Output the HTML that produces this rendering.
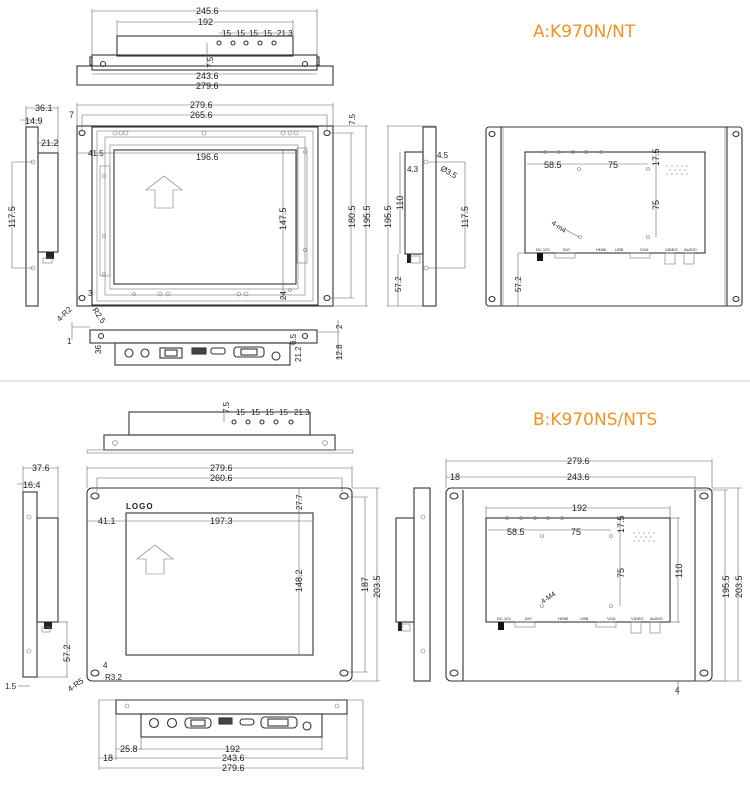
<!DOCTYPE html>
<html><head><meta charset="utf-8"><style>
html,body{margin:0;padding:0;background:#fff;width:750px;height:790px;overflow:hidden}
svg{display:block}
.l{stroke:#333;stroke-width:1.1;fill:none}
.t{stroke:#777;stroke-width:.6;fill:none}
.d{stroke:#666;stroke-width:.6;fill:none}
text{font-family:"Liberation Sans",sans-serif;font-size:9px;fill:#222}
.s text{font-size:4px}
.ti{font-family:"DejaVu Sans","Liberation Sans",sans-serif;font-size:17px;fill:#f39221}
</style></head><body>
<svg width="750" height="790" viewBox="0 0 750 790" xmlns="http://www.w3.org/2000/svg">
<text class="ti" x="533" y="37">A:K970N/NT</text>
<text class="ti" x="533" y="425">B:K970NS/NTS</text>
<line x1="0" y1="381" x2="750" y2="381" stroke="#ccc" stroke-width="1"/>

<g>
<rect class="l" x="117" y="36" width="176" height="20"/>
<rect class="l" x="92" y="55" width="225" height="15"/>
<rect class="l" x="77" y="66" width="256" height="19"/>
<rect class="l" x="90" y="57" width="2" height="8"/><rect class="l" x="317" y="57" width="2" height="8"/>
<circle class="l" cx="103" cy="64" r="2.5"/><circle class="l" cx="305" cy="64" r="2.5"/>
<g class="l"><circle cx="219" cy="43" r="2"/><circle cx="233" cy="43" r="2"/><circle cx="246" cy="43" r="2"/><circle cx="260" cy="43" r="2"/><circle cx="274" cy="43" r="2"/></g>
<line class="d" x1="92" y1="11" x2="317" y2="11"/><line class="d" x1="92" y1="9" x2="92" y2="55"/><line class="d" x1="317" y1="9" x2="317" y2="55"/>
<text x="196" y="14">245.6</text>
<line class="d" x1="117" y1="22" x2="293" y2="22"/><line class="d" x1="117" y1="20" x2="117" y2="36"/><line class="d" x1="293" y1="20" x2="293" y2="36"/>
<text x="198" y="25">192</text>
<line class="d" x1="219" y1="33" x2="293" y2="33"/>
<text x="222" y="36" style="font-size:8px">15</text><text x="236" y="36" style="font-size:8px">15</text><text x="249" y="36" style="font-size:8px">15</text><text x="263" y="36" style="font-size:8px">15</text><text x="277" y="36" style="font-size:8px">21.3</text>
<line class="d" x1="207" y1="43" x2="207" y2="66"/>
<text transform="translate(213,68) rotate(-90)" style="font-size:8px">7.5</text>
<line class="d" x1="92" y1="74" x2="317" y2="74"/><text x="196" y="79">243.6</text>
<line class="d" x1="77" y1="85" x2="333" y2="85"/><text x="196" y="89">279.6</text>
</g>

<g>
<rect class="l" x="77" y="126" width="256" height="180"/>
<rect class="l" x="92" y="127" width="226" height="178" stroke-width="1.8"/>
<rect class="t" x="97" y="131" width="216" height="170"/>
<rect class="t" x="105" y="137" width="200" height="158"/>
<rect class="t" x="110" y="145" width="188" height="144"/>
<rect class="l" x="114" y="150" width="182" height="134"/>
<rect class="t" x="100" y="166" width="10" height="110"/>
<rect class="t" x="297" y="148" width="10" height="115"/>
<polygon class="t" points="164,176 182,190 173,190 173,208 155,208 155,190 146,190"/>
<g class="l"><ellipse cx="82" cy="133" rx="3" ry="2.5"/><ellipse cx="82" cy="298" rx="3" ry="2.5"/><ellipse cx="327" cy="133" rx="3" ry="2.5"/><ellipse cx="327" cy="298" rx="3" ry="2.5"/></g>
<g class="t"><circle cx="115" cy="133" r="2"/><circle cx="121" cy="133" r="2"/><circle cx="126" cy="133" r="2"/><circle cx="283" cy="133" r="2"/><circle cx="290" cy="133" r="2"/><circle cx="296" cy="133" r="2"/><circle cx="204" cy="133" r="2"/>
<circle cx="160" cy="294" r="2"/><circle cx="168" cy="294" r="2"/><circle cx="239" cy="294" r="2"/><circle cx="246" cy="294" r="2"/><circle cx="134" cy="294" r="1.5"/><circle cx="290" cy="290" r="1.5"/>
<circle cx="104" cy="176" r="1.5"/><circle cx="104" cy="236" r="1.5"/><circle cx="104" cy="274" r="1.5"/><circle cx="305" cy="152" r="1.5"/><circle cx="305" cy="250" r="1.5"/></g>
<line class="d" x1="77" y1="105" x2="333" y2="105"/><line class="d" x1="77" y1="103" x2="77" y2="126"/><line class="d" x1="333" y1="103" x2="333" y2="126"/>
<text x="190" y="108">279.6</text>
<line class="d" x1="82" y1="115" x2="327" y2="115"/><text x="190" y="118">265.6</text>
<text x="69" y="118">7</text>
<line class="d" x1="82" y1="115" x2="82" y2="130"/><line class="d" x1="327" y1="115" x2="327" y2="130"/>
<line class="d" x1="77" y1="153" x2="295" y2="153"/><text x="88" y="156" style="font-size:8px">41.5</text>
<text x="196" y="160">196.6</text>
<line class="d" x1="283" y1="150" x2="283" y2="300"/><text transform="translate(286,230) rotate(-90)">147.5</text>
<text transform="translate(286,300) rotate(-90)" style="font-size:8px">24</text>
<line class="d" x1="330" y1="133" x2="354" y2="133"/><line class="d" x1="330" y1="298" x2="354" y2="298"/>
<line class="d" x1="351" y1="133" x2="351" y2="298"/><text transform="translate(355,228) rotate(-90)">180.5</text>
<line class="d" x1="333" y1="126" x2="368" y2="126"/><line class="d" x1="333" y1="306" x2="368" y2="306"/>
<line class="d" x1="366" y1="126" x2="366" y2="306"/><text transform="translate(370,228) rotate(-90)">195.5</text>
<text transform="translate(355,125) rotate(-90)" style="font-size:8px">7.5</text>
<text x="88" y="296" style="font-size:8px">3</text>
<text transform="translate(60,322) rotate(-45)" style="font-size:8px">4-R2</text>
<text transform="translate(92,310) rotate(55)" style="font-size:8px">R2.5</text>
</g>

<g>
<rect class="l" x="26" y="127" width="12" height="179"/>
<rect class="l" x="38" y="153" width="20" height="99"/>
<rect x="46" y="252" width="8" height="7" fill="#222"/>
<rect class="t" x="43" y="258" width="9" height="5"/>
<circle class="t" cx="33" cy="162" r="2"/><circle class="t" cx="33" cy="268" r="2"/>
<line class="d" x1="12" y1="162" x2="33" y2="162"/><line class="d" x1="12" y1="268" x2="33" y2="268"/><line class="d" x1="12" y1="162" x2="12" y2="268"/>
<text transform="translate(15,228) rotate(-90)">117.5</text>
<line class="d" x1="26" y1="108" x2="58" y2="108"/><line class="d" x1="26" y1="106" x2="26" y2="127"/><line class="d" x1="58" y1="106" x2="58" y2="153"/>
<text x="35" y="111">36.1</text>
<line class="d" x1="20" y1="120" x2="40" y2="120"/><text x="25" y="124">14.9</text>
<line class="d" x1="38" y1="143" x2="58" y2="143"/><text x="41" y="146">21.2</text>
</g>

<g>
<rect class="l" x="90" y="330" width="227" height="13"/>
<rect class="l" x="115" y="343" width="175" height="22"/>
<circle class="l" cx="101" cy="336" r="2.5"/><circle class="l" cx="305" cy="336" r="2.5"/>
<g class="l"><circle cx="129" cy="353" r="4"/><circle cx="145" cy="353" r="4"/>
<rect x="160" y="348" width="22" height="10"/><rect x="165" y="350" width="12" height="6"/>
<rect x="192" y="348" width="14" height="6" fill="#444"/>
<rect x="211" y="348" width="14" height="6" rx="2"/>
<rect x="234" y="347" width="30" height="10" rx="3"/><rect x="241" y="349" width="16" height="6"/>
<circle cx="276" cy="356" r="4"/></g>
<line class="d" x1="72" y1="327" x2="90" y2="327"/><line class="d" x1="72" y1="322" x2="72" y2="340"/><text x="67" y="344" style="font-size:8px">1</text>
<text transform="translate(101,354) rotate(-90)" style="font-size:8px">36</text>
<text transform="translate(296,345) rotate(-90)" style="font-size:8px">6.5</text>
<text transform="translate(301,362) rotate(-90)" style="font-size:8px">21.2</text>
<line class="d" x1="317" y1="332" x2="340" y2="332"/><line class="d" x1="338" y1="320" x2="338" y2="360"/>
<text transform="translate(342,329) rotate(-90)" style="font-size:8px">2</text>
<text transform="translate(342,360) rotate(-90)" style="font-size:8px">12.8</text>
</g>

<g>
<line class="d" x1="387" y1="126" x2="436" y2="126"/><line class="d" x1="387" y1="306" x2="436" y2="306"/>
<line class="d" x1="388" y1="126" x2="388" y2="306"/><text transform="translate(391,228) rotate(-90)">195.5</text>
<rect class="l" x="423" y="127" width="13" height="179"/>
<rect class="l" x="405" y="152" width="18" height="102"/>
<rect x="407" y="254" width="4" height="9" fill="#222"/><rect class="t" x="411" y="256" width="9" height="7"/>
<circle class="t" cx="426" cy="162" r="2"/><circle class="t" cx="426" cy="268" r="2"/>
<line class="d" x1="400" y1="152" x2="400" y2="254"/><text transform="translate(403,210) rotate(-90)">110</text>
<line class="d" x1="428" y1="162" x2="465" y2="162"/><line class="d" x1="428" y1="268" x2="465" y2="268"/><line class="d" x1="465" y1="162" x2="465" y2="268"/>
<text transform="translate(468,228) rotate(-90)">117.5</text>
<text x="437" y="158" style="font-size:8px">4.5</text><text x="407" y="172" style="font-size:8px">4.3</text>
<text transform="translate(440,170) rotate(30)" style="font-size:8px">Ø3.5</text>
<line class="d" x1="398" y1="254" x2="398" y2="306"/><text transform="translate(401,292) rotate(-90)" style="font-size:8px">57.2</text>
</g>

<g>
<rect class="l" x="486" y="127" width="256" height="179" rx="3"/>
<line class="l" x1="501" y1="127" x2="501" y2="306"/><line class="l" x1="727" y1="127" x2="727" y2="306"/>
<line class="t" x1="503" y1="127" x2="503" y2="306"/><line class="t" x1="725" y1="127" x2="725" y2="306"/>
<g class="l"><ellipse cx="492" cy="134" rx="3" ry="2.5"/><ellipse cx="492" cy="299" rx="3" ry="2.5"/><ellipse cx="736" cy="134" rx="3" ry="2.5"/><ellipse cx="736" cy="299" rx="3" ry="2.5"/></g>
<rect class="l" x="525" y="152" width="180" height="101"/>
<g class="t"><circle cx="545" cy="152" r="1.5"/><circle cx="559" cy="152" r="1.5"/><circle cx="573" cy="152" r="1.5"/><circle cx="586" cy="152" r="1.5"/><circle cx="601" cy="152" r="1.5"/>
<circle cx="579" cy="169" r="1.5"/><circle cx="648" cy="169" r="1.5"/><circle cx="580" cy="237" r="1.5"/><circle cx="648" cy="237" r="1.5"/></g>
<g fill="#777"><circle cx="667" cy="166" r=".6"/><circle cx="672" cy="166" r=".6"/><circle cx="677" cy="166" r=".6"/><circle cx="682" cy="166" r=".6"/><circle cx="687" cy="166" r=".6"/><circle cx="670" cy="170" r=".6"/><circle cx="675" cy="170" r=".6"/><circle cx="680" cy="170" r=".6"/><circle cx="685" cy="170" r=".6"/><circle cx="667" cy="174" r=".6"/><circle cx="672" cy="174" r=".6"/><circle cx="677" cy="174" r=".6"/><circle cx="682" cy="174" r=".6"/><circle cx="687" cy="174" r=".6"/></g>
<line class="d" x1="527" y1="164" x2="648" y2="164"/><text x="544" y="168">58.5</text><text x="608" y="168">75</text>
<line class="d" x1="656" y1="150" x2="656" y2="237"/><text transform="translate(659,166) rotate(-90)">17.5</text><text transform="translate(659,210) rotate(-90)">75</text>
<text transform="translate(551,224) rotate(35)" style="font-size:7px">4-m4</text>
<line class="d" x1="566" y1="230" x2="579" y2="237"/>
<rect x="537" y="253" width="6" height="8" fill="#111"/>
<rect class="t" x="555" y="253" width="20" height="5"/><rect class="t" x="630" y="253" width="20" height="5"/>
<rect class="t" x="665" y="253" width="10" height="11"/><rect class="t" x="684" y="253" width="10" height="11"/>
<g class="s"><text x="536" y="251">DC 12V</text><text x="563" y="251">DVI</text><text x="596" y="251">HDMI</text><text x="615" y="251">USB</text><text x="640" y="251">VGA</text><text x="665" y="251">VIDEO</text><text x="684" y="251">AUDIO</text></g>
<line class="d" x1="518" y1="253" x2="535" y2="253"/><line class="d" x1="518" y1="253" x2="518" y2="306"/>
<text transform="translate(521,292) rotate(-90)" style="font-size:8px">57.2</text>
</g>

<g>
<rect class="l" x="129" y="412" width="181" height="23"/>
<rect class="l" x="104" y="435" width="231" height="15"/>
<rect class="t" x="87" y="450" width="266" height="3"/>
<circle class="t" cx="115" cy="443" r="2.5"/><circle class="t" cx="325" cy="443" r="2.5"/>
<g class="l"><circle cx="234" cy="422" r="2"/><circle cx="248" cy="422" r="2"/><circle cx="262" cy="422" r="2"/><circle cx="276" cy="422" r="2"/><circle cx="291" cy="422" r="2"/></g>
<line class="d" x1="224" y1="412" x2="310" y2="412"/><line class="d" x1="224" y1="412" x2="224" y2="422"/>
<text transform="translate(229,413) rotate(-90)" style="font-size:8px">7.5</text>
<text x="236" y="415" style="font-size:8px">15</text><text x="251" y="415" style="font-size:8px">15</text><text x="265" y="415" style="font-size:8px">15</text><text x="279" y="415" style="font-size:8px">15</text><text x="294" y="415" style="font-size:8px">21.3</text>
</g>

<g>
<rect class="l" x="87" y="488" width="265" height="193" rx="5"/>
<rect class="l" x="126" y="513" width="187" height="142"/>
<polygon class="t" points="155,545 173,559 164,559 164,574 146,574 146,559 137,559"/>
<g class="l"><ellipse cx="95" cy="496" rx="4" ry="3"/><ellipse cx="344" cy="496" rx="4" ry="3"/><ellipse cx="95" cy="673" rx="4" ry="3"/><ellipse cx="344" cy="673" rx="4" ry="3"/></g>
<text x="126" y="509" style="font-weight:bold;font-size:8px;letter-spacing:1px">LOGO</text>
<line class="d" x1="87" y1="468" x2="352" y2="468"/><line class="d" x1="87" y1="466" x2="87" y2="488"/><line class="d" x1="352" y1="466" x2="352" y2="488"/>
<text x="210" y="471">279.6</text>
<line class="d" x1="97" y1="478" x2="342" y2="478"/><line class="d" x1="97" y1="478" x2="97" y2="492"/><line class="d" x1="342" y1="478" x2="342" y2="492"/>
<text x="210" y="481">260.6</text>
<line class="d" x1="87" y1="521" x2="313" y2="521"/><text x="98" y="524">41.1</text><text x="210" y="524">197.3</text>
<line class="d" x1="299" y1="488" x2="299" y2="655"/><text transform="translate(302,510) rotate(-90)" style="font-size:8px">27.7</text>
<text transform="translate(302,592) rotate(-90)">148.2</text>
<line class="d" x1="348" y1="497" x2="368" y2="497"/><line class="d" x1="348" y1="672" x2="368" y2="672"/><line class="d" x1="365" y1="497" x2="365" y2="672"/>
<text transform="translate(368,592) rotate(-90)">187</text>
<line class="d" x1="352" y1="488" x2="380" y2="488"/><line class="d" x1="352" y1="681" x2="380" y2="681"/><line class="d" x1="377" y1="488" x2="377" y2="681"/>
<text transform="translate(380,598) rotate(-90)">203.5</text>
<text x="103" y="668" style="font-size:8px">4</text><text x="105" y="680" style="font-size:8px">R3.2</text>
<text transform="translate(70,692) rotate(-35)" style="font-size:8px">4-R5</text>
</g>

<g>
<rect class="l" x="23" y="492" width="14" height="185"/>
<rect class="l" x="37" y="518" width="21" height="104"/>
<rect x="44" y="622" width="8" height="7" fill="#222"/><rect class="t" x="42" y="627" width="8" height="5"/>
<circle class="t" cx="29" cy="517" r="2"/><circle class="t" cx="29" cy="651" r="2"/>
<line class="d" x1="23" y1="468" x2="58" y2="468"/><line class="d" x1="23" y1="466" x2="23" y2="492"/><line class="d" x1="58" y1="466" x2="58" y2="518"/>
<text x="32" y="471">37.6</text>
<line class="d" x1="17" y1="484" x2="38" y2="484"/><text x="23" y="488">16.4</text>
<line class="d" x1="58" y1="622" x2="68" y2="622"/><line class="d" x1="37" y1="677" x2="68" y2="677"/><line class="d" x1="67" y1="622" x2="67" y2="677"/>
<text transform="translate(70,662) rotate(-90)">57.2</text>
<text x="5" y="689" style="font-size:8px">1.5</text><line class="d" x1="18" y1="686" x2="30" y2="686"/>
</g>

<g>
<rect class="l" x="116" y="700" width="231" height="14"/>
<rect class="l" x="141" y="714" width="181" height="23"/>
<line class="d" x1="99" y1="700" x2="363" y2="700"/><line class="d" x1="99" y1="700" x2="99" y2="770"/><line class="d" x1="363" y1="700" x2="363" y2="770"/>
<circle class="t" cx="127" cy="706" r="2"/><circle class="t" cx="337" cy="706" r="2"/>
<g class="l"><circle cx="154" cy="723" r="4.5"/><circle cx="172" cy="723" r="4.5"/>
<rect x="185" y="718" width="26" height="10" rx="4"/><rect x="191" y="720" width="14" height="6"/>
<rect x="219" y="718" width="13" height="6" fill="#444"/>
<rect x="240" y="719" width="14" height="6" rx="3"/>
<rect x="261" y="717" width="36" height="11" rx="4"/><rect x="268" y="719" width="20" height="7"/>
<circle cx="307" cy="726" r="4"/></g>
<line class="d" x1="116" y1="714" x2="116" y2="760"/><line class="d" x1="347" y1="714" x2="347" y2="760"/>
<line class="d" x1="141" y1="737" x2="141" y2="750"/><line class="d" x1="322" y1="737" x2="322" y2="750"/>
<line class="d" x1="116" y1="749" x2="322" y2="749"/><text x="120" y="752">25.8</text><text x="225" y="752">192</text>
<line class="d" x1="99" y1="758" x2="347" y2="758"/><text x="103" y="761">18</text><text x="222" y="761">243.6</text>
<line class="d" x1="99" y1="768" x2="363" y2="768"/><text x="222" y="771">279.6</text>
</g>

<g>
<rect class="l" x="414" y="488" width="16" height="193"/>
<rect class="l" x="396" y="518" width="18" height="104"/>
<rect x="398" y="622" width="4" height="9" fill="#222"/><rect class="t" x="402" y="624" width="8" height="7"/>
<circle class="t" cx="423" cy="517" r="2"/><circle class="t" cx="423" cy="651" r="2"/>
</g>

<g>
<rect class="l" x="446" y="488" width="266" height="193" rx="5"/>
<line class="l" x1="463" y1="490" x2="463" y2="681"/><line class="l" x1="695" y1="490" x2="695" y2="681"/>
<g class="l"><ellipse cx="454" cy="496" rx="4" ry="3"/><ellipse cx="704" cy="496" rx="4" ry="3"/><ellipse cx="454" cy="673" rx="4" ry="3"/><ellipse cx="704" cy="673" rx="4" ry="3"/></g>
<rect class="l" x="486" y="518" width="184" height="104"/>
<line class="d" x1="446" y1="461" x2="712" y2="461"/><line class="d" x1="446" y1="459" x2="446" y2="488"/><line class="d" x1="712" y1="459" x2="712" y2="488"/>
<text x="567" y="464">279.6</text>
<line class="d" x1="446" y1="477" x2="695" y2="477"/><line class="d" x1="695" y1="477" x2="695" y2="490"/>
<text x="450" y="480">18</text><text x="567" y="480">243.6</text>
<line class="d" x1="486" y1="508" x2="670" y2="508"/><line class="d" x1="486" y1="506" x2="486" y2="518"/><line class="d" x1="670" y1="506" x2="670" y2="518"/>
<text x="572" y="511">192</text>
<g class="t"><circle cx="507" cy="518" r="1.5"/><circle cx="521" cy="518" r="1.5"/><circle cx="535" cy="518" r="1.5"/><circle cx="548" cy="518" r="1.5"/><circle cx="562" cy="518" r="1.5"/>
<circle cx="542" cy="536" r="1.5"/><circle cx="611" cy="536" r="1.5"/><circle cx="542" cy="606" r="1.5"/><circle cx="611" cy="606" r="1.5"/></g>
<g fill="#777"><circle cx="634" cy="533" r=".6"/><circle cx="639" cy="533" r=".6"/><circle cx="644" cy="533" r=".6"/><circle cx="649" cy="533" r=".6"/><circle cx="654" cy="533" r=".6"/><circle cx="636" cy="537" r=".6"/><circle cx="641" cy="537" r=".6"/><circle cx="646" cy="537" r=".6"/><circle cx="651" cy="537" r=".6"/><circle cx="634" cy="541" r=".6"/><circle cx="639" cy="541" r=".6"/><circle cx="644" cy="541" r=".6"/><circle cx="649" cy="541" r=".6"/><circle cx="654" cy="541" r=".6"/></g>
<line class="d" x1="488" y1="530" x2="611" y2="530"/><text x="507" y="535">58.5</text><text x="571" y="535">75</text>
<line class="d" x1="620" y1="516" x2="620" y2="606"/><text transform="translate(624,533) rotate(-90)">17.5</text><text transform="translate(624,578) rotate(-90)">75</text>
<text transform="translate(543,604) rotate(-35)" style="font-size:7px">4-M4</text>
<rect x="498" y="622" width="6" height="8" fill="#111"/>
<rect class="t" x="515" y="622" width="20" height="5"/><rect class="t" x="596" y="622" width="20" height="5"/>
<rect class="t" x="631" y="622" width="10" height="11"/><rect class="t" x="650" y="622" width="10" height="11"/>
<g class="s"><text x="497" y="620">DC 12V</text><text x="525" y="620">DVI</text><text x="558" y="620">HDMI</text><text x="580" y="620">USB</text><text x="607" y="620">VGA</text><text x="631" y="620">VIDEO</text><text x="650" y="620">AUDIO</text></g>
<line class="d" x1="670" y1="518" x2="680" y2="518"/><line class="d" x1="670" y1="622" x2="680" y2="622"/><line class="d" x1="678" y1="518" x2="678" y2="622"/>
<text transform="translate(682,578) rotate(-90)">110</text>
<line class="d" x1="695" y1="490" x2="728" y2="490"/><line class="d" x1="695" y1="681" x2="728" y2="681"/><line class="d" x1="725" y1="490" x2="725" y2="681"/>
<text transform="translate(729,598) rotate(-90)">195.5</text>
<line class="d" x1="712" y1="488" x2="742" y2="488"/><line class="d" x1="712" y1="681" x2="742" y2="681"/><line class="d" x1="738" y1="488" x2="738" y2="681"/>
<text transform="translate(742,598) rotate(-90)">203.5</text>
<line class="d" x1="678" y1="681" x2="678" y2="695"/><text x="675" y="693" style="font-size:8px">4</text>
</g>
</svg>
</body></html>
